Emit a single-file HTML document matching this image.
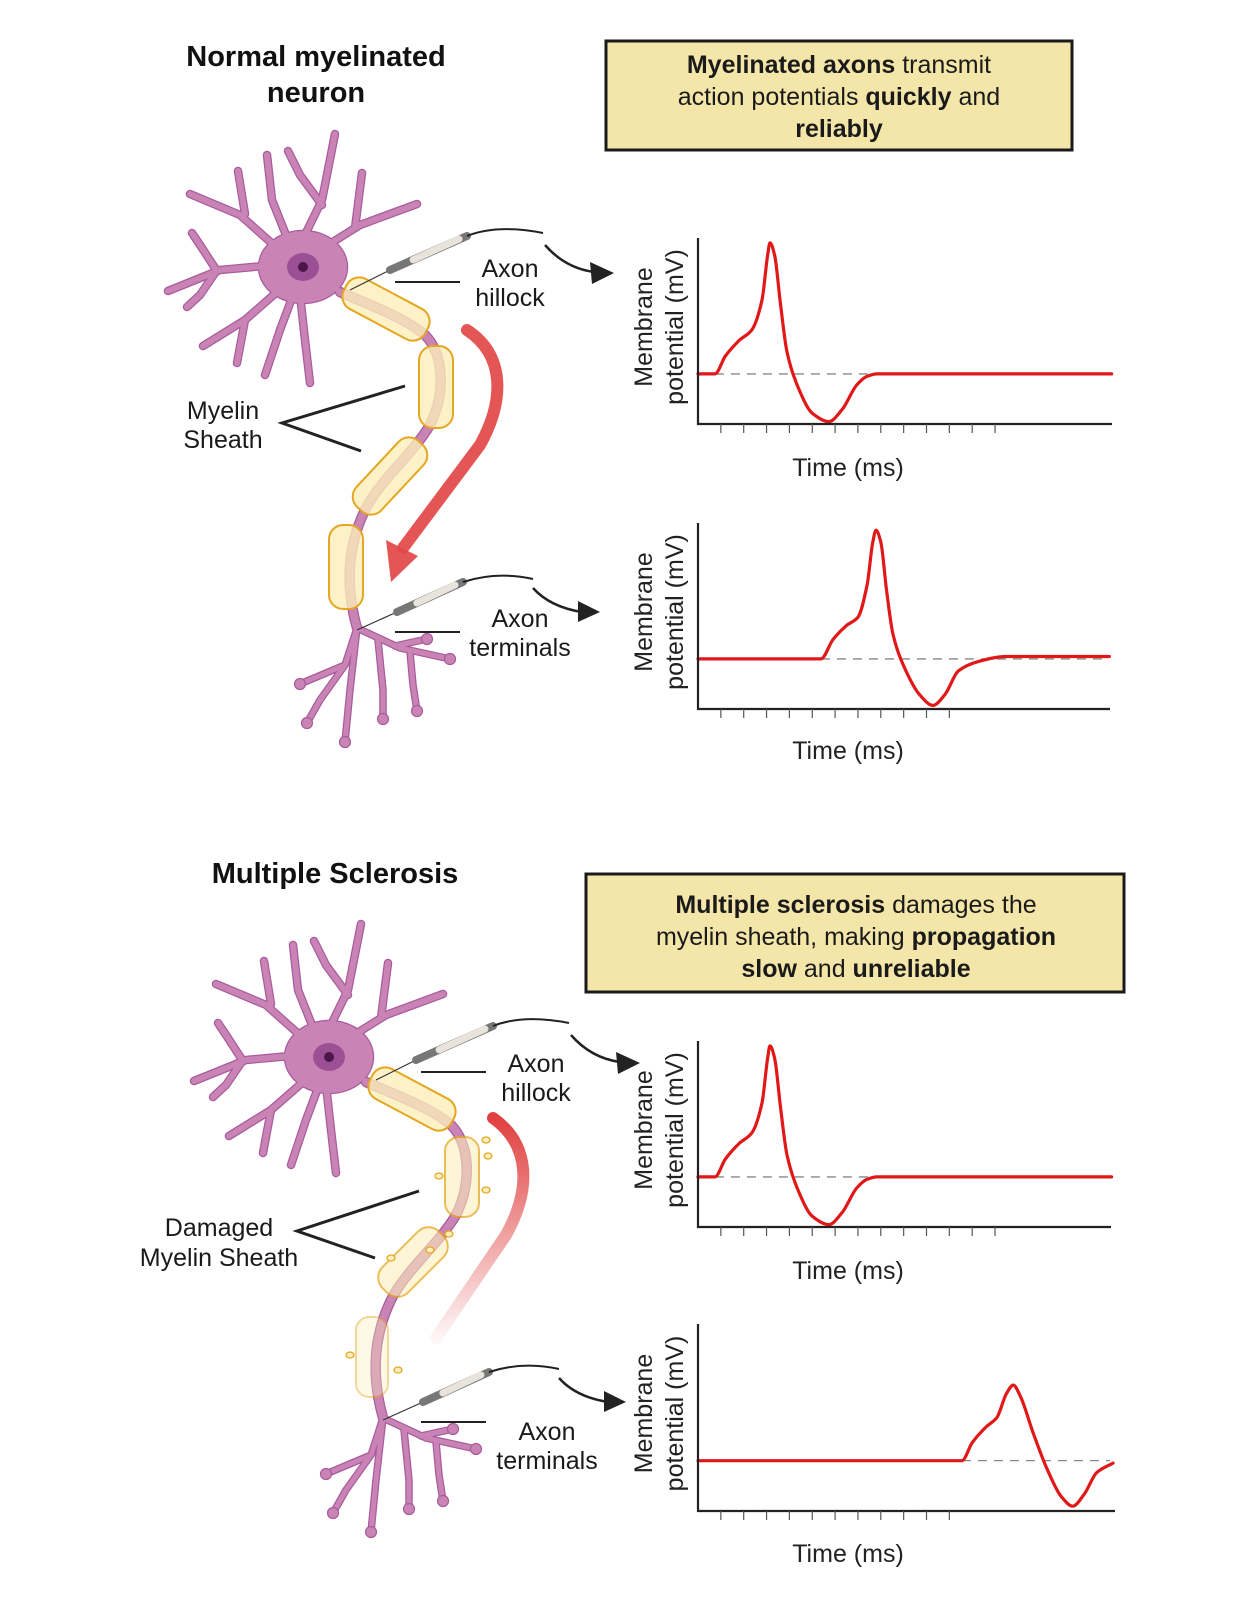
<!DOCTYPE html>
<html><head><meta charset="utf-8"><style>
html,body{margin:0;padding:0;background:#fff;}
svg{display:block;font-family:"Liberation Sans",sans-serif;}
</style></head><body>
<svg id="fig" width="1246" height="1600" viewBox="0 0 1246 1600" xmlns="http://www.w3.org/2000/svg">
<defs>
<linearGradient id="fadeRed" x1="0" y1="0" x2="0" y2="1">
<stop offset="0" stop-color="#e04040" stop-opacity="1"/>
<stop offset="1" stop-color="#e04040" stop-opacity="0.05"/>
</linearGradient>
</defs>
<rect width="1246" height="1600" fill="#fff"/>
<text x="316" y="66" font-size="29" font-weight="bold" text-anchor="middle" fill="#111">Normal myelinated</text>
<text x="316" y="102" font-size="29" font-weight="bold" text-anchor="middle" fill="#111">neuron</text>
<text x="335" y="883" font-size="29" font-weight="bold" text-anchor="middle" fill="#111">Multiple Sclerosis</text>
<g>
<rect x="606" y="41" width="466" height="109" fill="#f4e5a8" stroke="#1a1a1a" stroke-width="3"/>
<text x="839" y="73" font-size="25" text-anchor="middle" fill="#1a1a1a"><tspan font-weight="bold">Myelinated axons</tspan> transmit</text>
<text x="839" y="105" font-size="25" text-anchor="middle" fill="#1a1a1a">action potentials <tspan font-weight="bold">quickly</tspan> and</text>
<text x="839" y="137" font-size="25" text-anchor="middle" fill="#1a1a1a" font-weight="bold">reliably</text>
</g>
<g>
<rect x="586" y="874" width="538" height="118" fill="#f4e5a8" stroke="#1a1a1a" stroke-width="3"/>
<text x="856" y="913" font-size="25" text-anchor="middle" fill="#1a1a1a"><tspan font-weight="bold">Multiple sclerosis</tspan> damages the</text>
<text x="856" y="945" font-size="25" text-anchor="middle" fill="#1a1a1a">myelin sheath, making <tspan font-weight="bold">propagation</tspan></text>
<text x="856" y="977" font-size="25" text-anchor="middle" fill="#1a1a1a"><tspan font-weight="bold">slow</tspan> and <tspan font-weight="bold">unreliable</tspan></text>
</g>
<g id="neurons"></g>
<g id="charts"></g>
<g font-size="25" fill="#1a1a1a" text-anchor="middle">
<text x="510" y="277">Axon</text>
<text x="510" y="306">hillock</text>
<text x="223" y="419">Myelin</text>
<text x="223" y="448">Sheath</text>
<text x="520" y="627">Axon</text>
<text x="520" y="656">terminals</text>
<text x="536" y="1072">Axon</text>
<text x="536" y="1101">hillock</text>
<text x="219" y="1236">Damaged</text>
<text x="219" y="1266">Myelin Sheath</text>
<text x="547" y="1440">Axon</text>
<text x="547" y="1469">terminals</text>
</g>
</svg>
<script>
// ---------- chart data ----------
const chart1Times = [0, 0.74, 1.2, 1.8, 2.36, 2.8, 3.05, 3.15, 3.35, 3.6, 3.9, 4.4, 5.0, 5.73, 6.3, 6.96, 7.4, 7.83, 18.1];
const chart1Values = [-70, -70, -55, -42, -33, -8, 30, 40, 30, -10, -52, -82, -103, -110, -100, -79, -72, -70, -70];
const chart2Times = [0, 5.38, 5.9, 6.5, 7.0, 7.4, 7.65, 7.79, 8.0, 8.25, 8.53, 9.1, 9.7, 10.28, 10.8, 11.4, 12.3, 13.5, 18.0];
const chart2Values = [-70, -70, -54, -42, -35, -8, 28, 38, 28, -12, -49, -80, -100, -109, -100, -80, -72, -68, -68];
const chart3Times = [0, 0.74, 1.2, 1.8, 2.36, 2.8, 3.05, 3.15, 3.35, 3.6, 3.9, 4.4, 5.0, 5.73, 6.3, 6.96, 7.4, 7.83, 18.1];
const chart3Values = [-70, -70, -55, -42, -33, -8, 30, 40, 30, -10, -52, -82, -103, -110, -100, -79, -72, -70, -70];
const chart4Times = [0, 11.55, 12.0, 12.6, 13.08, 13.5, 13.8, 14.1, 14.67, 15.3, 15.9, 16.4, 16.9, 17.45, 18.16];
const chart4Values = [-70, -70, -55, -42, -34, -14, -7, -16, -47, -78, -100, -108, -98, -80, -72];
const tickCounts = [13, 11, 13, 11];
const yDomain = [-112, 44];
const restingValue = -70;
const axisTitleX = "Time (ms)";
const axisTitleY1 = "Membrane";
const axisTitleY2 = "potential (mV)";

const NS = "http://www.w3.org/2000/svg";
function mk(tag, attrs, parent) {
  const e = document.createElementNS(NS, tag);
  for (const k in attrs) e.setAttribute(k, attrs[k]);
  parent.appendChild(e);
  return e;
}
// monotone cubic (Fritsch-Carlson) path, no overshoot
function smoothPath(pts) {
  const n = pts.length;
  const dx = [], m = [], s = [];
  for (let i = 0; i < n - 1; i++) {
    dx[i] = pts[i+1][0] - pts[i][0];
    s[i] = (pts[i+1][1] - pts[i][1]) / dx[i];
  }
  m[0] = s[0]; m[n-1] = s[n-2];
  for (let i = 1; i < n - 1; i++) {
    if (s[i-1] * s[i] <= 0) m[i] = 0;
    else { const w1 = 2*dx[i] + dx[i-1], w2 = dx[i] + 2*dx[i-1]; m[i] = (w1 + w2) / (w1 / s[i-1] + w2 / s[i]); }
  }
  let d = "M" + pts[0][0].toFixed(1) + "," + pts[0][1].toFixed(1);
  for (let i = 0; i < n - 1; i++) {
    const h = dx[i] / 3;
    d += " C" + (pts[i][0] + h).toFixed(1) + "," + (pts[i][1] + m[i]*h).toFixed(1) + " " +
         (pts[i+1][0] - h).toFixed(1) + "," + (pts[i+1][1] - m[i+1]*h).toFixed(1) + " " +
         pts[i+1][0].toFixed(1) + "," + pts[i+1][1].toFixed(1);
  }
  return d;
}

const chartsG = document.getElementById("charts");
const layouts = [
  {x0: 698, top: 238, bottom: 424, right: 1112, tx: 848, ty: 476},
  {x0: 698, top: 523, bottom: 709, right: 1110, tx: 848, ty: 759},
  {x0: 698, top: 1041, bottom: 1227, right: 1111, tx: 848, ty: 1279},
  {x0: 698, top: 1324, bottom: 1511, right: 1115, tx: 848, ty: 1562}
];
const seriesT = [chart1Times, chart2Times, chart3Times, chart4Times];
const seriesV = [chart1Values, chart2Values, chart3Values, chart4Values];
const tickStep = 22.85;

layouts.forEach((L, i) => {
  const g = mk("g", {}, chartsG);
  
  
  const xs = t => L.x0 + t * tickStep;
  const ys = v => L.bottom - (v - yDomain[0]) / (yDomain[1] - yDomain[0]) * (L.bottom - L.top);
  const ts = seriesT[i];
  const riseT = ts[1];
  const rest = mk("line", {x1: xs(riseT), x2: L.right - 5, y1: ys(restingValue), y2: ys(restingValue), stroke: "#888", "stroke-width": 1.3, "stroke-dasharray": "9 7"}, g);
  
  
  const pts = ts.map((t, k) => [xs(t), ys(seriesV[i][k])]);
  const line = mk("path", {d: smoothPath(pts), fill: "none", stroke: "#e01818", "stroke-width": 3.2, "stroke-linejoin": "round", "stroke-linecap": "round"}, g);
  
  
  const ya = mk("line", {x1: L.x0, x2: L.x0, y1: L.top, y2: L.bottom + 1, stroke: "#222", "stroke-width": 2.2}, g);
  
  
  const xa = mk("line", {x1: L.x0 - 1, x2: L.right, y1: L.bottom, y2: L.bottom, stroke: "#222", "stroke-width": 2.2}, g);
  
  
  for (let k = 1; k <= tickCounts[i]; k++) {
    const tk = mk("line", {x1: xs(k), x2: xs(k), y1: L.bottom, y2: L.bottom + 9, stroke: "#555", "stroke-width": 1.2}, g);
    
    
  }
  const tt = mk("text", {x: L.tx, y: L.ty, "font-size": 25, "text-anchor": "middle", fill: "#222"}, g);
  tt.textContent = axisTitleX;
  
  
  const cy = (L.top + L.bottom) / 2 - 4;
  const y1 = mk("text", {x: 0, y: 0, "font-size": 25, "text-anchor": "middle", fill: "#222", transform: "translate(652," + cy + ") rotate(-90)"}, g);
  y1.textContent = axisTitleY1;
  
  
  const y2 = mk("text", {x: 0, y: 0, "font-size": 25, "text-anchor": "middle", fill: "#222", transform: "translate(683," + cy + ") rotate(-90)"}, g);
  y2.textContent = axisTitleY2;
  
  
});

// ---------- neurons ----------
const neuronsG = document.getElementById("neurons");
const dendrites = [
  [[300,245],[322,200],[335,134]], [[322,205],[300,175],[288,151]], [[290,245],[272,200],[267,155]],
  [[285,255],[240,215],[190,194]], [[245,214],[238,171]], [[275,265],[220,270],[168,291]],
  [[215,268],[200,245],[192,233]], [[215,273],[200,295],[187,307]], [[285,285],[245,320],[203,346]],
  [[245,320],[237,363]], [[295,290],[280,330],[265,375]], [[300,295],[305,340],[310,383]],
  [[320,250],[360,225],[417,204]], [[355,228],[362,173]]
];
const terminals = [
  [[357,628],[400,648],[450,659]], [[395,646],[427,639]], [[357,628],[345,665],[300,684]],
  [[345,665],[320,700],[307,723]], [[378,640],[383,690],[383,719]], [[410,652],[413,685],[417,711]],
  [[357,628],[350,690],[345,742]]
];
const axonD = "M340,292 C370,305 405,318 425,335 C445,355 445,395 430,425 C412,455 380,480 365,510 C348,545 345,585 357,628";
function poly(p){return "M" + p.map(q => q.join(",")).join(" L");}
function capsule(g, cx, cy, len, w, ang, op, name) {
  const r = mk("rect", {x: cx - len/2, y: cy - w/2, width: len, height: w, rx: w/2.4, fill: "#fbeeb9", "fill-opacity": 0.8, stroke: "#e5a722", "stroke-width": 2, transform: "rotate(" + ang + " " + cx + " " + cy + ")", opacity: op}, g);
  
  
  return r;
}
function drawNeuron(dx, dy, damaged) {
  const g = mk("g", {transform: "translate(" + dx + "," + dy + ")"}, neuronsG);
  
  
  [["#a85c9e", 2.5], ["#c983b4", 0]].forEach(([col, extra]) => {
    dendrites.forEach(p => mk("path", {d: poly(p), fill: "none", stroke: col, "stroke-width": 6 + extra, "stroke-linecap": "round", "stroke-linejoin": "round"}, g));
    terminals.forEach(p => mk("path", {d: poly(p), fill: "none", stroke: col, "stroke-width": 5 + extra, "stroke-linecap": "round", "stroke-linejoin": "round"}, g));
    mk("ellipse", {cx: 303, cy: 267, rx: 44 + extra/2, ry: 36 + extra/2, fill: col}, g);
    mk("path", {d: axonD, fill: "none", stroke: col, "stroke-width": 8 + extra, "stroke-linecap": "round"}, g);
  });
  terminals.forEach(p => { const q = p[p.length-1]; mk("circle", {cx: q[0], cy: q[1], r: 5.5, fill: "#c983b4", stroke: "#a85c9e", "stroke-width": 1.2}, g); });
  mk("ellipse", {cx: 303, cy: 267, rx: 16, ry: 14, fill: "#9b4f95"}, g);
  mk("circle", {cx: 303, cy: 267, r: 5, fill: "#4a1748"}, g);
  capsule(g, 386, 309, 92, 34, 28, 1, 'myelin-segment-1');
  if (!damaged) {
    capsule(g, 436, 387, 82, 34, 90, 1, 'myelin-segment-2');
    capsule(g, 390, 476, 90, 34, 133, 1, 'myelin-segment-3');
    capsule(g, 346, 567, 84, 34, 90, 1, 'myelin-segment-4');
  } else {
    capsule(g, 436, 387, 80, 34, 90, 0.75, 'damaged-myelin-segment-2');
    capsule(g, 387, 472, 80, 36, 135, 0.75, 'damaged-myelin-segment-3');
    capsule(g, 346, 567, 80, 32, 90, 0.45, 'damaged-myelin-segment-4');
    [[462,366],[460,400],[413,386],[423,444],[365,468],[404,460],[324,565],[372,580],[460,350]].forEach(c =>
      mk("ellipse", {cx: c[0], cy: c[1], rx: 4, ry: 3, fill: "#fbeeb9", stroke: "#e5a722", "stroke-width": 1.3}, g));
  }
  [[[350,290],[390,270],[467,236],[497,224],[543,233]], [[357,630],[397,612],[463,582],[497,571],[533,579]]].forEach((e, k) => {
    const eg = mk("g", {}, g);
    
    
    mk("line", {x1: e[0][0], y1: e[0][1], x2: e[1][0], y2: e[1][1], stroke: "#333", "stroke-width": 1.2}, eg);
    mk("line", {x1: e[1][0], y1: e[1][1], x2: e[2][0], y2: e[2][1], stroke: "#777", "stroke-width": 8, "stroke-linecap": "round"}, eg);
    mk("line", {x1: e[1][0] + (e[2][0]-e[1][0])*0.3, y1: e[1][1] + (e[2][1]-e[1][1])*0.3, x2: e[2][0] - 8, y2: e[2][1] + 3, stroke: "#e8e4dc", "stroke-width": 7, "stroke-linecap": "round"}, eg);
    mk("path", {d: "M" + e[2] + " Q" + e[3] + " " + e[4], fill: "none", stroke: "#222", "stroke-width": 2}, eg);
  });
  [["M545,245 Q565,268 594,272", [[590,262],[614,273],[592,284]]], ["M533,588 Q550,607 582,612", [[578,601],[600,612],[578,622]]]].forEach(a => {
    const ag = mk("g", {}, g);
    
    
    mk("path", {d: a[0], fill: "none", stroke: "#222", "stroke-width": 2.5}, ag);
    mk("polygon", {points: a[1].map(q => q.join(",")).join(" "), fill: "#222"}, ag);
  });
  mk("line", {x1: 395, y1: 282, x2: 460, y2: 282, stroke: "#222", "stroke-width": 2}, g);
  mk("line", {x1: 395, y1: 632, x2: 460, y2: 632, stroke: "#222", "stroke-width": 2}, g);
  const pa = mk("g", {}, g);
  
  
  if (!damaged) {
    mk("path", {d: "M467,330 C505,355 505,400 480,445 L403,548", fill: "none", stroke: "#e24848", "stroke-width": 12, "stroke-linecap": "round", opacity: 0.92}, pa);
    mk("polygon", {points: "386,540 418,556 391,582", fill: "#e24848", opacity: 0.92}, pa);
  } else {
    mk("path", {d: "M467,328 C505,355 505,400 480,445 L410,548", fill: "none", stroke: "url(#fadeRed)", "stroke-width": 12, "stroke-linecap": "round"}, pa);
  }
}
drawNeuron(0, 0, false);
drawNeuron(26, 790, true);

[["M405,386 L282,423 L361,451", "myelin-leader"], ["M419,1191 L297,1231 L375,1258", "damaged-myelin-leader"]].forEach(l => {
  const p = mk("path", {d: l[0], fill: "none", stroke: "#222", "stroke-width": 3}, document.getElementById("fig"));
  
  
});
</script>
</body></html>
